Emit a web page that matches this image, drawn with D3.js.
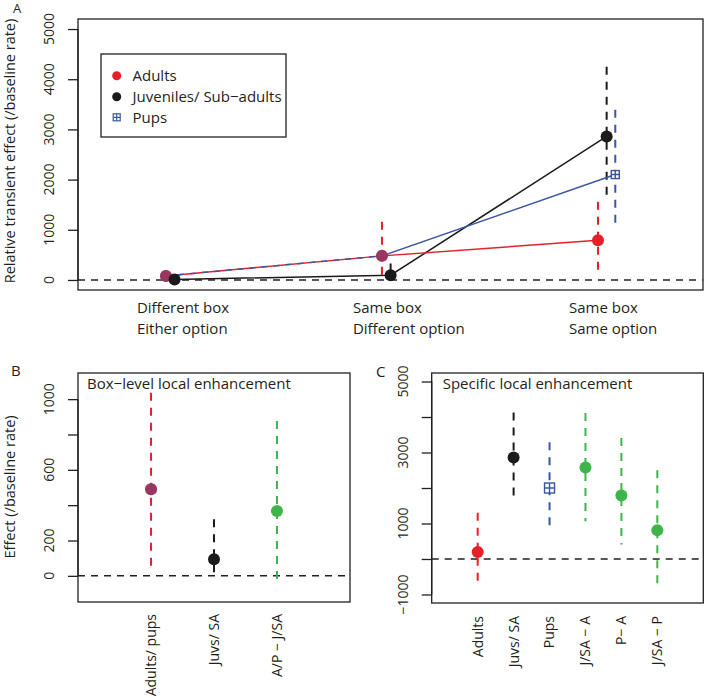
<!DOCTYPE html>
<html><head><meta charset="utf-8">
<script src="https://cdn.jsdelivr.net/npm/d3@7"></script>
<style>
body{margin:0;background:#fff}
text{font-family:"Open Sans",sans-serif;fill:#231f20}
</style>
</head><body>
<svg id="c" width="704" height="698"></svg>
<script>
// ---------- DATA ----------
// Panel A
const catLine1 = ["Different box", "Same box", "Same box"];
const catLine2 = ["Either option", "Different option", "Same option"];
const seriesNames = ["Adults", "Juveniles/ Sub\u2212adults", "Pups"];
const adultsX = [1, 2, 3];
const adultsVal = [80, 480, 790];
const adultsLo = [null, 60, 65];
const adultsHi = [null, 1160, 1560];
const juvX = [1.04, 2.04, 3.04];
const juvVal = [10, 95, 2860];
const juvLo = [null, 0, 1560];
const juvHi = [null, 330, 4250];
const pupsX = [1, 2, 3.08];
const pupsVal = [80, 480, 2100];
const pupsLo = [null, null, 1000];
const pupsHi = [null, null, 3390];
const ticksA = [0, 1000, 2000, 3000, 4000, 5000];

// Panel B
const catsB = ["Adults/ pups", "Juvs/ SA", "A/P \u2212 J/SA"];
const valB = [490, 94, 367];
const loB = [56, 0, -19];
const hiB = [1036, 320, 876];
const ticksB = [0, 200, 400, 600, 800, 1000];
const labelsB = ["0", "200", "", "600", "", "1000"];

// Panel C
const catsC = ["Adults", "Juvs/ SA", "Pups", "J/SA \u2212 A", "P\u2212 A", "J/SA \u2212 P"];
const valC = [200, 2860, 2000, 2580, 1790, 810];
const loC = [-670, 1600, 920, 1060, 410, -860];
const hiC = [1300, 4130, 3290, 4110, 3410, 2500];
const ticksC = [-1000, 0, 1000, 2000, 3000, 4000, 5000];
const labelsC = ["\u22121000", "", "1000", "", "3000", "", "5000"];

// ---------- STYLE ----------
const RED = "#e42128", BLACK = "#1b1b1b", BLUE = "#3a56a5", GREEN = "#3db54a";
const svg = d3.select("#c");
const FS = 15, TFS = 14, XFS = 14, YTFS = 14.5;

function boxAndYAxis(g, x0, x1, y0, y1, y, ticks, labels) {
  g.append("rect").attr("x", x0).attr("y", y0).attr("width", x1 - x0).attr("height", y1 - y0)
    .attr("fill", "none").attr("stroke", "#231f20").attr("stroke-width", 1.3);
  const ax = g.append("g").attr("transform", `translate(${x0},0)`)
    .call(d3.axisLeft(y).tickValues(ticks).tickSize(10).tickFormat(""));
  ax.select(".domain").attr("stroke", "#231f20").attr("stroke-width", 1.3)
    .attr("d", `M0,${y(ticks[0])}V${y(ticks[ticks.length - 1])}`);
  ax.selectAll(".tick line").attr("stroke", "#231f20").attr("stroke-width", 1.3);
  g.selectAll(null).data(ticks).enter().append("text")
    .attr("transform", (d) => `translate(${x0 - 24},${y(d)}) rotate(-90)`)
    .attr("text-anchor", "middle").attr("font-size", TFS)
    .text((d, i) => labels[i]);
}
function zeroLine(g, x0, x1, y) {
  g.append("line").attr("x1", x0).attr("x2", x1).attr("y1", y(0)).attr("y2", y(0))
    .attr("stroke", "#231f20").attr("stroke-width", 1.5).attr("stroke-dasharray", "7,6");
}
function errBar(g, x, y, lo, hi, col) {
  if (lo == null || hi == null) return;
  g.append("line").attr("x1", x).attr("x2", x).attr("y1", y(hi)).attr("y2", y(lo))
    .attr("stroke", col).attr("stroke-width", 2).attr("stroke-dasharray", "8,7");
}
function dot(g, x, y, col, r = 6) {
  g.append("circle").attr("cx", x).attr("cy", y).attr("r", r).attr("fill", col);
}
function sqPlus(g, x, y, col, s = 8, w = 1.4) {
  g.append("rect").attr("x", x - s / 2).attr("y", y - s / 2).attr("width", s).attr("height", s)
    .attr("fill", "#fff").attr("stroke", col).attr("stroke-width", w);
  g.append("path").attr("d", `M${x - s / 2},${y}H${x + s / 2}M${x},${y - s / 2}V${y + s / 2}`)
    .attr("stroke", col).attr("stroke-width", w);
}
function mixed(g, x, y) {
  dot(g, x, y, RED, 6);
  g.append("circle").attr("cx", x).attr("cy", y).attr("r", 6).attr("fill", BLUE).attr("opacity", 0.55);
  g.append("path").attr("d", `M${x - 4},${y - 4}H${x + 4}V${y + 4}H${x - 4}ZM${x - 4},${y}H${x + 4}M${x},${y - 4}V${y + 4}`)
    .attr("fill", "none").attr("stroke", RED).attr("stroke-width", 0.8).attr("opacity", 0.5);
}

// ---------- PANEL A ----------
{
  const g = svg.append("g");
  const L = 78, R = 703, T = 19, B = 290;
  const x = d3.scaleLinear().domain([0.593, 3.486]).range([L, R]);
  const y = d3.scaleLinear().domain([-200, 5200]).range([B, T]);
  boxAndYAxis(g, L, R, T, B, y, ticksA, ticksA.map(String));
  zeroLine(g, L, R, y);
  g.append("text").attr("transform", `translate(15,151) rotate(-90)`).attr("text-anchor", "middle")
    .attr("font-size", YTFS).text("Relative transient effect (/baseline rate)");
  g.append("text").attr("x", 13).attr("y", 13).attr("font-size", 13).text("A");
  // category labels
  catLine1.forEach((t, i) => {
    g.append("text").attr("x", x(i + 1) - 29).attr("y", 313).attr("font-size", FS).text(t);
    g.append("text").attr("x", x(i + 1) - 29).attr("y", 334).attr("font-size", FS).text(catLine2[i]);
  });
  // error bars
  adultsX.forEach((d, i) => errBar(g, x(d), y, adultsLo[i], adultsHi[i], RED));
  juvX.forEach((d, i) => errBar(g, x(d), y, juvLo[i], juvHi[i], BLACK));
  pupsX.forEach((d, i) => errBar(g, x(d), y, pupsLo[i], pupsHi[i], BLUE));
  // lines
  const line = d3.line().x((d) => x(d[0])).y((d) => y(d[1]));
  const pts = (xs, vs) => xs.map((d, i) => [d, vs[i]]);
  g.append("path").attr("d", line(pts(juvX, juvVal))).attr("fill", "none").attr("stroke", BLACK).attr("stroke-width", 1.5);
  g.append("path").attr("d", line(pts(adultsX, adultsVal))).attr("fill", "none").attr("stroke", RED).attr("stroke-width", 1.5);
  g.append("path").attr("d", line(pts(pupsX.slice(0, 2), pupsVal.slice(0, 2)))).attr("fill", "none").attr("stroke", BLUE).attr("stroke-width", 1.5).attr("stroke-dasharray", "6,6");
  g.append("path").attr("d", line(pts(pupsX.slice(1), pupsVal.slice(1)))).attr("fill", "none").attr("stroke", BLUE).attr("stroke-width", 1.5);
  // points
  mixed(g, x(adultsX[0]), y(adultsVal[0]));
  mixed(g, x(adultsX[1]), y(adultsVal[1]));
  dot(g, x(adultsX[2]), y(adultsVal[2]), RED);
  juvX.forEach((d, i) => dot(g, x(d), y(juvVal[i]), BLACK));
  sqPlus(g, x(pupsX[2]), y(pupsVal[2]), BLUE);
  // legend
  const lg = g.append("g");
  lg.append("rect").attr("x", 101).attr("y", 54).attr("width", 185).attr("height", 83)
    .attr("fill", "#fff").attr("stroke", "#231f20").attr("stroke-width", 1.3);
  const ly = [75.7, 96.7, 117.3];
  dot(lg, 116.7, ly[0], RED, 4.5);
  dot(lg, 116.7, ly[1], BLACK, 4.5);
  sqPlus(lg, 116.7, ly[2], BLUE, 7, 1.2);
  seriesNames.forEach((s, i) => lg.append("text").attr("x", 132.5).attr("y", ly[i]).attr("dy", "0.35em")
    .attr("font-size", FS).text(s));
}

// ---------- PANEL B ----------
{
  const g = svg.append("g");
  const L = 78, R = 350, T = 373, B = 602;
  const x = d3.scaleLinear().domain([-0.16, 4.16]).range([L, R]);
  const y = d3.scaleLinear().domain([-148, 1148]).range([B, T]);
  boxAndYAxis(g, L, R, T, B, y, ticksB, labelsB);
  zeroLine(g, L, R, y);
  g.append("text").attr("transform", `translate(15,487) rotate(-90)`).attr("text-anchor", "middle")
    .attr("font-size", YTFS).text("Effect (/baseline rate)");
  g.append("text").attr("x", 11).attr("y", 376).attr("font-size", FS).text("B");
  g.append("text").attr("x", 87).attr("y", 389).attr("font-size", FS).text("Box\u2212level local enhancement");
  const cols = [RED, BLACK, GREEN];
  catsB.forEach((c, i) => {
    errBar(g, x(i + 1), y, loB[i], hiB[i], cols[i]);
  });
  mixed(g, x(1), y(valB[0]));
  dot(g, x(2), y(valB[1]), BLACK);
  dot(g, x(3), y(valB[2]), GREEN);
  catsB.forEach((c, i) => {
    g.append("text").attr("transform", `translate(${x(i + 1)},614) rotate(-90)`)
      .attr("text-anchor", "end").attr("dy", "0.35em").attr("font-size", XFS).text(c);
  });
}

// ---------- PANEL C ----------
{
  const g = svg.append("g");
  const L = 431.7, R = 703.3, T = 373, B = 603;
  const x = d3.scaleLinear().domain([-0.28, 7.28]).range([L, R]);
  const y = d3.scaleLinear().domain([-1240, 5240]).range([B, T]);
  boxAndYAxis(g, L, R, T, B, y, ticksC, labelsC);
  zeroLine(g, L, R, y);
  g.append("text").attr("x", 376).attr("y", 377).attr("font-size", FS).text("C");
  g.append("text").attr("x", 442.7).attr("y", 389).attr("font-size", FS).text("Specific local enhancement");
  const cols = [RED, BLACK, BLUE, GREEN, GREEN, GREEN];
  catsC.forEach((c, i) => errBar(g, x(i + 1), y, loC[i], hiC[i], cols[i]));
  catsC.forEach((c, i) => {
    if (i === 2) sqPlus(g, x(i + 1), y(valC[i]), BLUE, 10, 1.4);
    else dot(g, x(i + 1), y(valC[i]), cols[i]);
  });
  catsC.forEach((c, i) => {
    g.append("text").attr("transform", `translate(${x(i + 1)},616) rotate(-90)`)
      .attr("text-anchor", "end").attr("dy", "0.35em").attr("font-size", XFS).text(c);
  });
}
</script>
</body></html>
